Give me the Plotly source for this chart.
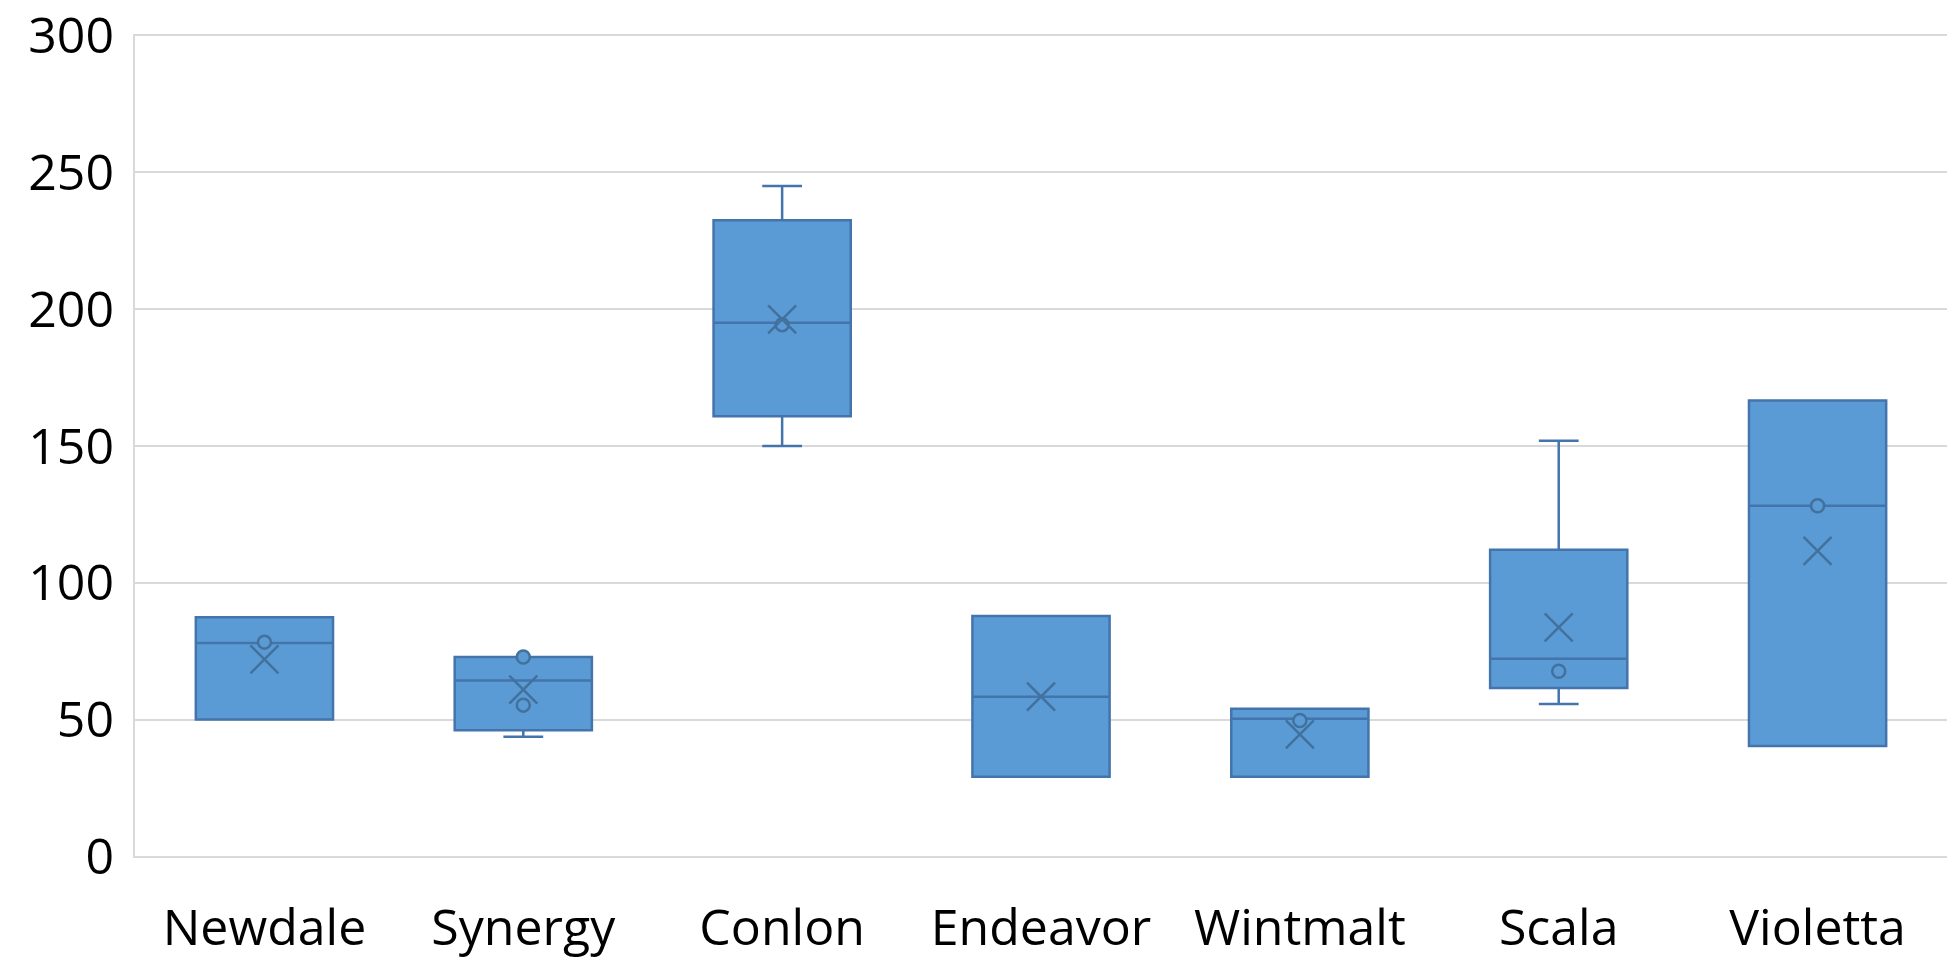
import plotly.graph_objects as go

# Barley varieties and their box-and-whisker summaries
categories = ["Newdale", "Synergy", "Conlon", "Endeavor", "Wintmalt", "Scala", "Violetta"]
lower_whisker = [50.2, 43.9, 150.0, 29.3, 29.3, 55.8, 40.5]
q1 = [50.2, 46.2, 160.9, 29.3, 29.3, 61.7, 40.5]
median = [78.1, 64.4, 195.0, 58.5, 50.4, 72.3, 128.2]
q3 = [87.5, 73.0, 232.4, 87.9, 54.1, 112.1, 166.6]
upper_whisker = [87.5, 73.0, 244.9, 87.9, 54.1, 151.9, 166.6]
mean = [72.1, 61.1, 196.2, 58.5, 44.7, 83.8, 111.7]

# Inner data points drawn as small circles
point_cats = ["Newdale", "Synergy", "Synergy", "Conlon", "Wintmalt", "Scala", "Violetta"]
point_vals = [78.4, 73.0, 55.4, 194.3, 49.8, 67.8, 128.2]

y_ticks = [0, 50, 100, 150, 200, 250, 300]

FILL = "#5B9BD5"
EDGE = "#4474AC"
MARK = "#41719C"
FONT = "Open Sans"

fig = go.Figure()

fig.add_trace(go.Box(
    x=categories,
    q1=q1,
    median=median,
    q3=q3,
    lowerfence=lower_whisker,
    upperfence=upper_whisker,
    fillcolor=FILL,
    line=dict(color=EDGE, width=2.5),
    width=0.53,
    whiskerwidth=0.29,
    boxpoints=False,
    showlegend=False,
    hoverinfo="skip",
))

fig.add_trace(go.Scatter(
    x=point_cats,
    y=point_vals,
    mode="markers",
    marker=dict(symbol="circle", size=13, color=FILL, line=dict(color=MARK, width=2.5)),
    showlegend=False,
    hoverinfo="skip",
))

fig.add_trace(go.Scatter(
    x=categories,
    y=mean,
    mode="markers",
    marker=dict(symbol="x-thin-open", size=28, color=MARK, line=dict(color=MARK, width=2.5)),
    showlegend=False,
    hoverinfo="skip",
))

fig.update_layout(
    width=1952,
    height=959,
    margin=dict(l=135, r=5, t=34, b=101),
    paper_bgcolor="white",
    plot_bgcolor="white",
    font=dict(family=FONT, size=50, color="#000000"),
    xaxis=dict(
        type="category",
        categoryorder="array",
        categoryarray=categories,
        range=[-0.5, len(categories) - 0.5],
        automargin=False,
        showgrid=False,
        showline=False,
        zeroline=False,
        ticks="",
        ticklabelstandoff=36,
        ticklabeloverflow="allow",
        tickfont=dict(family=FONT, size=50, color="#000000"),
    ),
    yaxis=dict(
        range=[-0.4, 300.4],
        tickvals=y_ticks,
        ticktext=[str(v) for v in y_ticks],
        automargin=False,
        showgrid=True,
        gridcolor="#D9D9D9",
        gridwidth=2,
        zeroline=False,
        showline=True,
        linecolor="#D9D9D9",
        linewidth=2,
        ticks="",
        ticklabelstandoff=9,
        ticklabeloverflow="allow",
        tickfont=dict(family=FONT, size=50, color="#000000"),
    ),
)

fig.write_html("out.html")
